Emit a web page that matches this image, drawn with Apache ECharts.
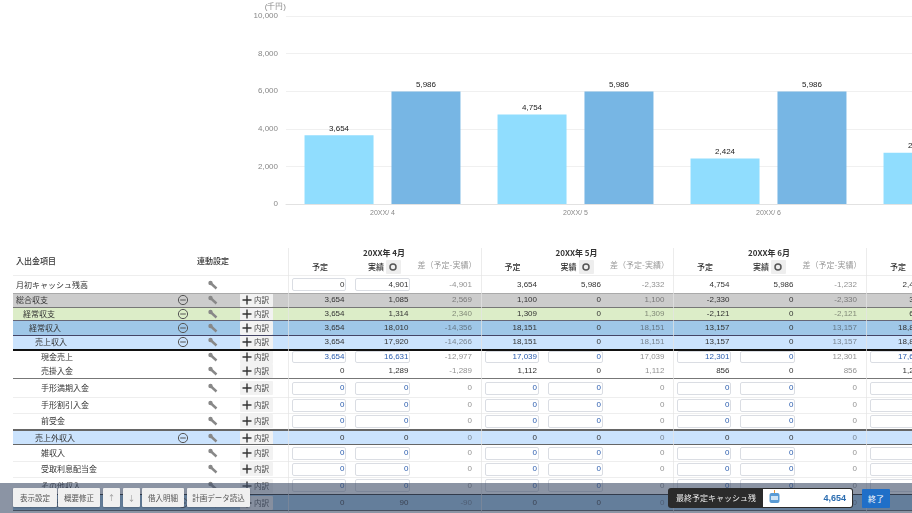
<!DOCTYPE html>
<html>
<head>
<meta charset="utf-8">
<title>資金繰り表</title>
<script src="https://cdn.jsdelivr.net/npm/echarts@6/dist/echarts.min.js"></script>
<style>
html,body{margin:0;padding:0;width:912px;height:513px;overflow:hidden;background:#fff;}
body{font-family:"Liberation Sans","Noto Sans CJK JP",sans-serif;font-size:8px;color:#333;}
#main{position:absolute;left:0;top:0;width:1058px;height:240px;filter:blur(.3px);}
#table{position:absolute;left:0;top:0;width:912px;height:513px;overflow:hidden;filter:blur(.3px);}
#table div{position:absolute;white-space:nowrap;box-sizing:border-box;}
#table svg{position:absolute;}
.jp{font-family:"Noto Sans CJK JP",sans-serif;}
.num{text-align:right;}
.inp{background:#fff;border:1px solid #dadde3;border-radius:2px;}
.btn{background:#f0f0f0;color:#555;text-align:center;border-radius:1px;box-shadow:0 1px 2px rgba(0,0,0,.2);font-size:7.5px;}
</style>
</head>
<body>
<div id="main"></div>
<div id="table"></div>
<script>
// グラフのデータ
var categories = ['20XX/ 4', '20XX/ 5', '20XX/ 6', '20XX/ 7'];
var planValues = [3654, 4754, 2424, 2724];
var actualValues = [5986, 5986, 5986, 5986];
var yTicks = { min: 0, max: 10000, interval: 2000 };

// 表のデータ
var months = ['20XX年 4月', '20XX年 5月', '20XX年 6月', '20XX年 7月'];
var rowLabels = ['月初キャッシュ残高', '総合収支', '経常収支', '経常収入', '売上収入', '現金売上', '売掛入金',
    '手形満期入金', '手形割引入金', '前受金', '売上外収入', '雑収入', '受取利息配当金', 'その他収入', '経常支出'];
var rowIndent = [16, 16, 23, 29, 35, 41, 41, 41, 41, 41, 35, 41, 41, 41, 29];
var rowTop = [276, 293, 307, 321, 335, 350, 364, 379, 397, 413, 431, 445, 461, 477, 495];
var rowBottom = [293, 307, 321, 335, 349, 364, 378, 397, 413, 429, 444, 461, 477, 494, 510];
var rowBand = ['', '#cccccc', '#dcedc8', '#9fc7e8', '#cbe3fd', '', '', '', '', '', '#cbe3fd', '', '', '', '#9fc7e8'];
var rowInput = [0, 0, 0, 0, 0, 1, 0, 1, 1, 1, 0, 1, 1, 1, 0];

var planRows = [
    [0, 3654, 4754, 2424], [3654, 1100, -2330, 300], [3654, 1309, -2121, 618], [3654, 18151, 13157, 18850],
    [3654, 18151, 13157, 18850], [3654, 17039, 12301, 17630], [0, 1112, 856, 1220], [0, 0, 0, 0], [0, 0, 0, 0],
    [0, 0, 0, 0], [0, 0, 0, 0], [0, 0, 0, 0], [0, 0, 0, 0], [0, 0, 0, 0], [0, 0, 0, 0]
];
var actualRows = [
    [4901, 5986, 5986, 0], [1085, 0, 0, 0], [1314, 0, 0, 0], [18010, 0, 0, 0], [17920, 0, 0, 0], [16631, 0, 0, 0],
    [1289, 0, 0, 0], [0, 0, 0, 0], [0, 0, 0, 0], [0, 0, 0, 0], [0, 0, 0, 0], [0, 0, 0, 0], [0, 0, 0, 0], [0, 0, 0, 0],
    [90, 0, 0, 0]
];
var diffRows = [
    [-4901, -2332, -1232, 0], [2569, 1100, -2330, 0], [2340, 1309, -2121, 0], [-14356, 18151, 13157, 0],
    [-14266, 18151, 13157, 0], [-12977, 17039, 12301, 0], [-1289, 1112, 856, 0], [0, 0, 0, 0], [0, 0, 0, 0],
    [0, 0, 0, 0], [0, 0, 0, 0], [0, 0, 0, 0], [0, 0, 0, 0], [0, 0, 0, 0], [-90, 0, 0, 0]
];
var toolButtons = ['表示設定', '概要修正', '↑', '↓', '借入明細', '計画データ読込'];
var toolLeft = [13, 58, 103, 123, 142, 187];
var toolWidth = [44, 42, 17, 17, 42, 63];
var finalBalance = 4654;

function fmt(v) {
    return Number(v).toLocaleString('en-US');
}

// グラフ
var myChart = echarts.init(document.getElementById('main'));
var barLabel = { show: true, position: 'top', distance: 3, color: '#222', fontSize: 8, formatter: function (p) { return fmt(p.value); } };
myChart.setOption({
    animation: false,
    grid: { left: 286, right: 0, top: 16, height: 188, outerBoundsMode: 'none' },
    xAxis: {
        type: 'category',
        data: categories,
        axisTick: { show: false },
        axisLine: { lineStyle: { color: '#e2e2e2' } },
        axisLabel: { color: '#888', fontSize: 7, margin: 6 }
    },
    yAxis: {
        type: 'value',
        min: yTicks.min,
        max: yTicks.max,
        interval: yTicks.interval,
        name: '(千円)',
        nameLocation: 'end',
        nameGap: 5,
        nameTextStyle: { color: '#888', fontSize: 8, align: 'right', padding: [0, 0, 0, 4] },
        axisLine: { show: false },
        axisTick: { show: false },
        splitLine: { lineStyle: { color: '#f0f0f0' } },
        axisLabel: { color: '#888', fontSize: 8, margin: 8, formatter: fmt }
    },
    series: [
        { name: '予定', type: 'bar', data: planValues, barWidth: 69, barGap: '26%', itemStyle: { color: '#90DDFE' }, label: barLabel },
        { name: '実績', type: 'bar', data: actualValues, barWidth: 69, itemStyle: { color: '#77B6E4' }, label: barLabel }
    ]
});

// 表
var groupLeft = [288, 480.5, 673, 866];
var html = '';

function box(x, y, w, h, cls, style, text) {
    html += '<div class="' + cls + '" style="left:' + x + 'px;top:' + y + 'px;width:' + w + 'px;height:' + h + 'px;line-height:' + h + 'px;' + style + '">' + (text === undefined ? '' : text) + '</div>';
}
function wrench(cx, cy) {
    html += '<svg style="left:' + (cx - 6) + 'px;top:' + (cy - 5) + 'px" width="12" height="11"><circle cx="3.5" cy="3" r="2.2" fill="#888"/><path d="M3.5 3 L9.5 8.5" stroke="#888" stroke-width="2.4"/></svg>';
}
function minus(cx, cy) {
    html += '<svg style="left:' + (cx - 6) + 'px;top:' + (cy - 6) + 'px" width="12" height="12"><circle cx="6" cy="6" r="4.6" stroke="#555" fill="none"/><path d="M3.2 6H8.8" stroke="#555"/></svg>';
}
function detail(cy) {
    box(240, cy - 7, 33, 14, '', 'background:#f2f2f2;border-radius:1px;');
    html += '<svg style="left:242px;top:' + (cy - 5) + 'px" width="10" height="10"><path d="M5 0.5V9.5M0.5 5H9.5" stroke="#333" stroke-width="1.4"/></svg>';
    box(254, cy - 7, 18, 14, 'jp', 'color:#444;font-size:7.5px;', '内訳');
}

// 見出し
box(16, 254, 60, 14, 'jp', 'font-weight:500;', '入出金項目');
box(193, 254, 40, 14, 'jp', 'text-align:center;font-weight:500;', '連動設定');
groupLeft.forEach(function (g, m) {
    box(g + 66, 246, 60, 14, 'jp', 'text-align:center;font-weight:bold;', months[m]);
    box(g + 17, 260, 30, 14, 'jp', 'text-align:center;font-weight:500;', '予定');
    box(g + 73, 260, 30, 14, 'jp', 'text-align:center;font-weight:500;', '実績');
    box(g + 98, 260, 15, 14, '', 'background:#eee;border-radius:1px;');
    html += '<svg style="left:' + (g + 100) + 'px;top:262px" width="10" height="10"><circle cx="5" cy="5" r="3" stroke="#555" stroke-width="1.5" fill="none"/></svg>';
    box(g + 126, 258, 66, 14, 'jp', 'text-align:center;color:#999;', '差（予定-実績）');
});
box(13, 275, 899, 1, '', 'background:#eee;');

// 行
rowLabels.forEach(function (label, r) {
    var top = rowTop[r], h = rowBottom[r] - rowTop[r], cy = top + h / 2;
    var band = rowBand[r];
    if (band) box(13, top, 899, h, '', 'background:' + band + ';');
    box(rowIndent[r], top, 100, h, 'jp', '', label);
    if (band) minus(183, cy);
    wrench(213, cy);
    if (r > 0) detail(cy);
    months.forEach(function (mm, m) {
        var g = groupLeft[m];
        var showInputs = rowInput[r] || (r === 0 && m === 0);
        if (showInputs) {
            var ih = Math.min(h - 2, 13);
            box(g + 4, cy - ih / 2, 54, ih, 'inp', '');
            box(g + 67, cy - ih / 2, 55, ih, 'inp', '');
        }
        var color = (showInputs && r > 0) ? 'color:#2a5cae;' : '';
        box(g + 6, top, 50.5, h, 'num', color, fmt(planRows[r][m]));
        if (m < 3) {
            box(g + 69, top, 51.5, h, 'num', color, fmt(actualRows[r][m]));
            box(g + 130, top, 54, h, 'num', 'color:#333;opacity:.55;', fmt(diffRows[r][m]));
        }
    });
});

// 区切り線
box(13, 349, 899, 1.5, '', 'background:#111;');
box(13, 378, 899, 1, '', 'background:#777;');
box(13, 397, 899, 1, '', 'background:#eee;');
box(13, 413, 899, 1, '', 'background:#eee;');
box(13, 429, 899, 2, '', 'background:#666;');
box(13, 444, 899, 1, '', 'background:#666;');
box(13, 461, 899, 1, '', 'background:#eee;');
box(13, 477, 899, 1, '', 'background:#eee;');
box(13, 494, 899, 1, '', 'background:#222;');
box(13, 510, 899, 1, '', 'background:#555;');
box(13, 292.5, 899, 1, '', 'background:#aaa;');
box(13, 306.5, 899, 1, '', 'background:#777;');
box(13, 320, 899, 1, '', 'background:#667;');
box(13, 334.5, 899, 1, '', 'background:#446;');
groupLeft.forEach(function (g) {
    box(g, 248, 1, 265, '', 'background:#e4e4e4;opacity:.7;');
});

// 下のツールバー
box(0, 483, 912, 30, '', 'background:rgba(62,76,104,.6);');
toolButtons.forEach(function (b, i) {
    box(toolLeft[i], 488, toolWidth[i], 19, 'btn jp', i === 2 || i === 3 ? 'color:#999;' : '', b);
});
box(668, 488, 185, 20, '', 'background:#2b2b2b;border-radius:3px;');
box(676, 488, 88, 20, 'jp', 'color:#eee;', '最終予定キャッシュ残');
box(763, 489, 89, 18, '', 'background:#fff;border-radius:0 2px 2px 0;');
html += '<svg style="left:767px;top:489px" width="15" height="17"><path d="M7.5 1V4" stroke="#e89a3c"/><rect x="2.5" y="4" width="10" height="10" rx="2" fill="#5a9bd4"/><rect x="4" y="7" width="7" height="4" fill="#cfe4f5"/></svg>';
box(780, 489, 66, 18, 'num', 'color:#2a6cb0;font-weight:bold;font-size:9px;', fmt(finalBalance));
box(862, 489, 28, 19, 'jp', 'background:#1f6fc8;color:#fff;text-align:center;border-radius:1px;', '終了');

document.getElementById('table').innerHTML = html;
</script>
</body>
</html>
